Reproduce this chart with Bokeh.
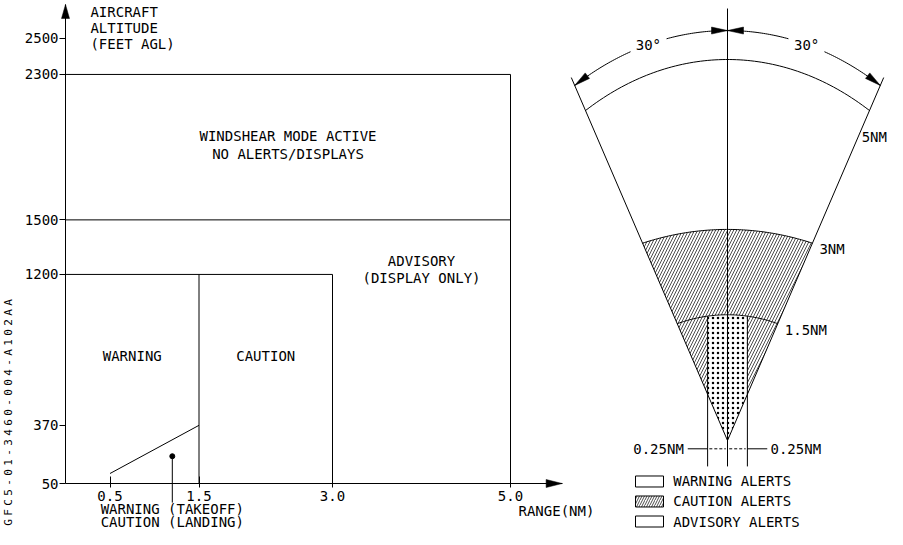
import numpy as np
from bokeh.plotting import figure
from bokeh.models import Range1d, LinearAxis, FixedTicker, NumeralTickFormatter
from bokeh.core.properties import value
from bokeh.embed import file_html
from bokeh.resources import INLINE

# ---------------- data: altitude / range chart ----------------
altitude_ticks = [50, 370, 1200, 1500, 2300, 2500]
range_ticks = [0.5, 1.5, 3.0, 5.0]
altitude_floor = 50
windshear_ceiling = 2300
no_alert_floor = 1500
alert_ceiling = 1200
warning_range = 1.5
caution_range = 3.0
advisory_range = 5.0
ramp_range = [0.5, 1.5]
ramp_altitude = [105, 370]
marker_range = [1.2]
marker_altitude = [200]

y_title_lines = ["AIRCRAFT", "ALTITUDE", "(FEET AGL)"]
x_title = "RANGE(NM)"
region_texts = ["WINDSHEAR MODE ACTIVE", "NO ALERTS/DISPLAYS", "ADVISORY",
                "(DISPLAY ONLY)", "WARNING", "CAUTION"]
note_lines = ["WARNING (TAKEOFF)", "CAUTION (LANDING)"]
doc_id = "GFC5-01-3460-004-A102AA"

# ---------------- data: sector diagram ----------------
half_angle_deg = 30
ring_labels = ["1.5NM", "3NM", "5NM"]
ring_edge_nm = [1.77, 2.99, 5.0]
ring_top_nm = [1.65, 2.77, 5.0]
edge_extent_nm = 5.5
strip_half_width_nm = 0.35
strip_label = "0.25NM"
angle_label = "30°"
legend_labels = ["WARNING ALERTS", "CAUTION ALERTS", "ADVISORY ALERTS"]
legend_hatches = [" ", "/", " "]

# ---------------- layout constants ----------------
W, H = 887, 529
FONT = "DejaVu Sans Mono"
FS = "14px"
LX_ORIGIN, LX_SCALE = 65.0, 89.0     # canvas px of range 0, px per NM
LY_ORIGIN, LY_SCALE = 483.0, 0.1818  # canvas row of floor altitude, px per ft
FX_APEX, FY_APEX = 727.0, 440.0      # canvas px of sector apex
FX_SCALE, FY_SCALE = 56.8, 76.2      # px per NM in sector diagram

p = figure(width=W, height=H, output_backend="svg", toolbar_location=None,
           x_axis_type=None, y_axis_type=None, min_border=0,
           x_range=Range1d(-LX_ORIGIN / LX_SCALE, (W - LX_ORIGIN) / LX_SCALE),
           y_range=Range1d(altitude_floor - (H - LY_ORIGIN) / LY_SCALE,
                           altitude_floor + LY_ORIGIN / LY_SCALE))
p.extra_x_ranges = {"fx": Range1d(-FX_APEX / FX_SCALE, (W - FX_APEX) / FX_SCALE)}
p.extra_y_ranges = {"fy": Range1d(-(H - FY_APEX) / FY_SCALE, FY_APEX / FY_SCALE)}
p.outline_line_color = None
p.background_fill_color = "white"
p.border_fill_color = "white"
p.grid.visible = False

LC = "black"
F = dict(x_range_name="fx", y_range_name="fy")


def head(tip, direction, sx, sy, length, half):
    ux, uy = direction[0] * sx, direction[1] * sy
    n = np.hypot(ux, uy)
    ux, uy = ux / n, uy / n
    bx, by = -ux * length, -uy * length
    qx, qy = -uy * half, ux * half
    xs = [tip[0], tip[0] + (bx + qx) / sx, tip[0] + (bx - qx) / sx]
    ys = [tip[1], tip[1] + (by + qy) / sy, tip[1] + (by - qy) / sy]
    return xs, ys


# ================= left chart =================
y_top = 2685
x_end = 5.58
yaxis = LinearAxis(fixed_location=0, ticker=FixedTicker(ticks=altitude_ticks),
                   formatter=NumeralTickFormatter(format="0"),
                   bounds=(altitude_floor, y_top), major_tick_in=0, major_tick_out=6,
                   minor_tick_in=0, minor_tick_out=0, major_label_standoff=1,
                   axis_line_color=LC, major_tick_line_color=LC,
                   major_label_text_font=FONT, major_label_text_font_size=FS,
                   major_label_text_color=LC)
p.add_layout(yaxis, "left")
xaxis = LinearAxis(fixed_location=altitude_floor, ticker=FixedTicker(ticks=range_ticks),
                   formatter=NumeralTickFormatter(format="0.0"),
                   bounds=(0, x_end), major_tick_in=7, major_tick_out=4,
                   minor_tick_in=0, minor_tick_out=0, major_label_standoff=3,
                   axis_line_color=LC, major_tick_line_color=LC,
                   major_label_text_font=FONT, major_label_text_font_size=FS,
                   major_label_text_color=LC)
p.add_layout(xaxis, "below")

# axis arrowheads
hx1, hy1 = head((0, y_top), (0, 1), LX_SCALE, LY_SCALE, 14, 4)
hx2, hy2 = head((x_end, altitude_floor), (1, 0), LX_SCALE, LY_SCALE, 16, 4)
p.patches(xs=[hx1, hx2], ys=[hy1, hy2], fill_color=LC, line_color=LC, line_width=0.5)

# region boundaries
p.segment(x0=[0, advisory_range, 0, 0, caution_range, warning_range],
          y0=[windshear_ceiling, altitude_floor, no_alert_floor, alert_ceiling, altitude_floor, altitude_floor],
          x1=[advisory_range, advisory_range, advisory_range, caution_range, caution_range, warning_range],
          y1=[windshear_ceiling, windshear_ceiling, no_alert_floor, alert_ceiling, alert_ceiling, alert_ceiling],
          line_color=LC, line_width=1)
p.line(x=ramp_range, y=ramp_altitude, line_color=LC, line_width=1)
p.scatter(x=marker_range, y=marker_altitude, size=5, color=LC)
p.segment(x0=marker_range, y0=marker_altitude, x1=marker_range, y1=[-55],
          line_color=LC, line_width=1)

p.text(x=[0.28] * 3, y=[2646, 2555, 2465], text=y_title_lines, text_font=value(FONT),
       text_font_size=FS, text_align="left", text_baseline="middle", text_color=LC)
p.text(x=[2.5, 2.5, 4.0, 4.0, 0.75, 2.25], y=[1964, 1861, 1275, 1178, 750, 750],
       text=region_texts, text_font=value(FONT), text_font_size=FS,
       text_align="center", text_baseline="middle", text_color=LC)
p.text(x=[5.09], y=[-100], text=[x_title], text_font=value(FONT), text_font_size=FS,
       text_align="left", text_baseline="middle", text_color=LC)
p.text(x=marker_range * 2, y=[-88, -160], text=note_lines, text_font=value(FONT),
       text_font_size=FS, text_align="center", text_baseline="middle", text_color=LC)

chars = list(doc_id)
char_y = [altitude_floor + (LY_ORIGIN - (522 - 10 * i)) / LY_SCALE for i in range(len(chars))]
p.text(x=[-0.645] * len(chars), y=char_y, text=chars, angle=np.pi / 2,
       text_font=value(FONT), text_font_size="11px", text_align="center",
       text_baseline="middle", text_color=LC)

# ================= sector diagram =================
a = np.radians(half_angle_deg)


def ring_y(i, x):
    c = ring_edge_nm[i] * np.sin(a)
    ye = ring_edge_nm[i] * np.cos(a)
    h = ring_top_nm[i]
    yc = (h * h - ye * ye - c * c) / (2 * (h - ye))
    R = h - yc
    return yc + np.sqrt(R * R - np.asarray(x) ** 2)


def ring_xy(i, n=80):
    c = ring_edge_nm[i] * np.sin(a)
    xs = np.linspace(-c, c, n)
    return xs, ring_y(i, xs)

# caution (hatched) wedge up to the 3NM ring
rx, ry = ring_xy(1)
p.patch(x=np.concatenate([[0], rx, [0]]), y=np.concatenate([[0], ry, [0]]),
        fill_color="white", line_color=None, hatch_pattern="/", hatch_scale=6,
        hatch_weight=0.7, hatch_color=LC, **F)

# warning (dotted) strip
w = strip_half_width_nm
ys_edge = w / np.tan(a)
sx_arc = np.linspace(-w, w, 20)
sy_arc = ring_y(0, sx_arc)
p.patch(x=np.concatenate([[0, -w], sx_arc, [w, 0]]),
        y=np.concatenate([[0, ys_edge], sy_arc, [ys_edge, 0]]),
        fill_color="white", line_color=None, hatch_pattern=".", hatch_scale=5,
        hatch_weight=1, hatch_color=LC, **F)

# ring arcs
arcs = [ring_xy(i) for i in range(3)]
p.multi_line(xs=[list(q[0]) for q in arcs], ys=[list(q[1]) for q in arcs],
             line_color=LC, line_width=1, **F)

# sector edges, center line, strip boundaries
bottom = -0.34
p.segment(x0=[0, 0, 0, -w, w],
          y0=[0, 0, bottom, bottom, bottom],
          x1=[-edge_extent_nm * np.sin(a), edge_extent_nm * np.sin(a), 0, -w, w],
          y1=[edge_extent_nm * np.cos(a), edge_extent_nm * np.cos(a), 5.669,
              float(sy_arc[0]), float(sy_arc[-1])],
          line_color=LC, line_width=1, **F)

# ring labels (the outer one sits a little lower along the edge to stay inside)
label_r = [ring_edge_nm[0], ring_edge_nm[1], 4.6]
label_dx = [7, 7, 3.5]
label_dy = [6, 6, 0]
for i, lab in enumerate(ring_labels):
    ex = label_r[i] * np.sin(a)
    ey = label_r[i] * np.cos(a)
    p.text(x=[ex + label_dx[i] / FX_SCALE], y=[ey - label_dy[i] / FY_SCALE], text=[lab],
           text_font=value(FONT), text_font_size=FS, text_align="left",
           text_baseline="middle", text_color=LC, **F)

# 30 degree dimension arcs
rd = 5.38
gap = (11.5, 18.5)
seg_xs, seg_ys, hxs, hys = [], [], [], []
for s in (-1, 1):
    for t0, t1 in ((0, gap[0]), (gap[1], half_angle_deg)):
        t = np.radians(np.linspace(t0, t1, 30))
        seg_xs.append(list(s * rd * np.sin(t)))
        seg_ys.append(list(rd * np.cos(t)))
    hx, hy = head((0, rd), (-s, 0), FX_SCALE, FY_SCALE, 16, 3.5)
    hxs.append(hx); hys.append(hy)
    hx, hy = head((s * rd * np.sin(a), rd * np.cos(a)), (s * np.cos(a), -np.sin(a)),
                  FX_SCALE, FY_SCALE, 16, 3.5)
    hxs.append(hx); hys.append(hy)
p.multi_line(xs=seg_xs, ys=seg_ys, line_color=LC, line_width=1, **F)
p.patches(xs=hxs, ys=hys, fill_color=LC, line_color=LC, line_width=0.5, **F)
ta = np.radians(15)
p.text(x=[-rd * np.sin(ta), rd * np.sin(ta)], y=[rd * np.cos(ta)] * 2, text=[angle_label] * 2,
       text_font=value(FONT), text_font_size=FS, text_align="center",
       text_baseline="middle", text_color=LC, **F)

# 0.25NM dimension
dy = -0.109
p.segment(x0=[-0.70, w], y0=[dy, dy], x1=[-w, 0.70], y1=[dy, dy], line_color=LC,
          line_width=1, **F)
p.segment(x0=[-w + 0.03, 0.03], y0=[dy, dy], x1=[-0.03, w - 0.03], y1=[dy, dy],
          line_color=LC, line_width=1, line_dash="3 2", **F)
p.text(x=[-0.769], y=[dy], text=[strip_label], text_font=value(FONT), text_font_size=FS,
       text_align="right", text_baseline="middle", text_color=LC, **F)
p.text(x=[0.757], y=[dy], text=[strip_label], text_font=value(FONT), text_font_size=FS,
       text_align="left", text_baseline="middle", text_color=LC, **F)

# legend
leg_y = [-0.538, -0.8005, -1.063]
for lab, hp, yy in zip(legend_labels, legend_hatches, leg_y):
    p.rect(x=[-1.373], y=[yy], width=28, height=11, width_units="screen",
           height_units="screen", fill_color="white", line_color=LC, line_width=1,
           hatch_pattern=hp, hatch_scale=5, hatch_weight=0.7, hatch_color=LC, **F)
    p.text(x=[-0.956], y=[yy], text=[lab], text_font=value(FONT), text_font_size=FS,
           text_align="left", text_baseline="middle", text_color=LC, **F)

open("out.html", "w").write(file_html(p, INLINE))
